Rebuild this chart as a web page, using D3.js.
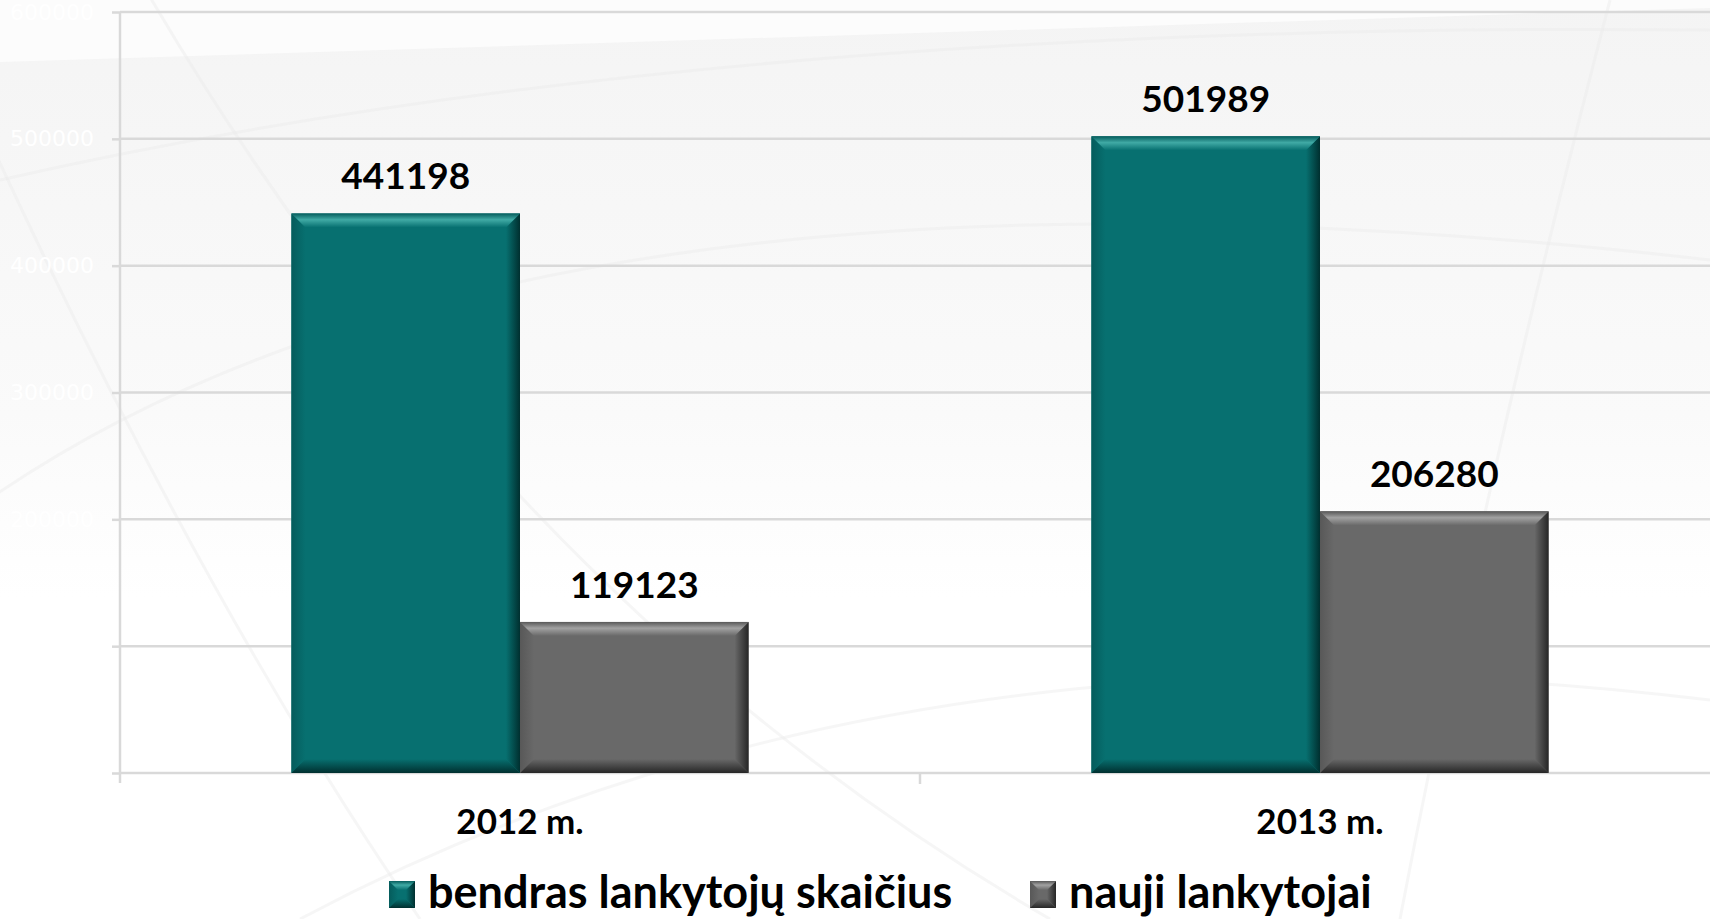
<!DOCTYPE html>
<html>
<head>
<meta charset="utf-8">
<script src="https://cdn.jsdelivr.net/npm/d3@7"></script>
<style>
  html, body { margin: 0; padding: 0; background: #fff; overflow: hidden; }
  text { font-family: Lato, "Open Sans", sans-serif; font-weight: bold; }
</style>
</head>
<body>
<div id="chart"></div>
<script>
// data
const years = ['2012 m.', '2013 m.'];
const seriesNames = ['bendras lankytojų skaičius', 'nauji lankytojai'];
const totalVisitors = [441198, 501989];
const newVisitors = [119123, 206280];
const yTicks = [0, 100000, 200000, 300000, 400000, 500000, 600000];

const W = 1710, H = 919;
const margin = { top: 12, left: 120 };
const plotBottom = 773;

// colours for each series: main, highlight, dark
const palette = [
  { main: '#077070', light: '#40aaa5', dark: '#002f2f', side: '#055c5c' },
  { main: '#696969', light: '#a2a2a2', dark: '#262626', side: '#585858' }
];

const svg = d3.select('#chart')
  .append('svg')
  .attr('width', W)
  .attr('height', H);

const defs = svg.append('defs');

// background
const bg = defs.append('linearGradient').attr('id', 'bg')
  .attr('x1', 0).attr('y1', 0).attr('x2', 0).attr('y2', 1);
bg.append('stop').attr('offset', '0%').attr('stop-color', '#f4f4f4');
bg.append('stop').attr('offset', '45%').attr('stop-color', '#fafafa');
bg.append('stop').attr('offset', '65%').attr('stop-color', '#ffffff');
bg.append('stop').attr('offset', '100%').attr('stop-color', '#ffffff');
svg.append('rect').attr('width', W).attr('height', H).attr('fill', 'url(#bg)');
svg.append('path')
  .attr('d', `M0,0 L${W},0 L${W},8 L0,62 Z`)
  .attr('fill', '#fcfcfc');

// faint decorative arcs
const arcs = [
  'M-40,520 Q500,120 1710,260',
  'M0,180 Q700,20 1710,30',
  'M140,-20 Q500,600 1050,919',
  'M-20,120 Q200,600 420,919',
  'M1610,0 Q1480,500 1400,919',
  'M300,919 Q900,600 1710,700'
];
svg.append('g').selectAll('path')
  .data(arcs)
  .join('path')
  .attr('d', d => d)
  .attr('fill', 'none')
  .attr('stroke', '#eaeaea')
  .attr('stroke-width', 3)
  .attr('opacity', 0.45);

// scales
const x0 = d3.scaleBand()
  .domain(years)
  .range([margin.left, margin.left + 1600]);
const x1 = d3.scaleBand()
  .domain(seriesNames)
  .range([0, x0.bandwidth()])
  .paddingOuter(0.75);
const y = d3.scaleLinear()
  .domain([0, 600000])
  .range([plotBottom, margin.top]);

// grid
svg.append('g').selectAll('line')
  .data(yTicks)
  .join('line')
  .attr('x1', margin.left)
  .attr('x2', W)
  .attr('y1', d => y(d))
  .attr('y2', d => y(d))
  .attr('stroke', '#d9d9d9')
  .attr('stroke-width', 2.5);

// y axis
const yAxis = svg.append('g')
  .attr('transform', 'translate(' + margin.left + ',0)')
  .call(d3.axisLeft(y).tickValues(yTicks).tickSize(8).tickPadding(18).tickFormat(d3.format('d')));
yAxis.select('.domain').attr('stroke', '#d9d9d9').attr('stroke-width', 2.5)
  .attr('d', `M0,${margin.top}V${plotBottom + 10}`);
yAxis.selectAll('.tick line').attr('stroke', '#d9d9d9').attr('stroke-width', 2.5);
yAxis.selectAll('.tick text')
  .attr('fill', '#ffffff')
  .style('font-family', '"DejaVu Sans", sans-serif')
  .style('font-weight', 'normal')
  .style('font-size', '22px');

// x axis
const xAxis = svg.append('g')
  .attr('transform', 'translate(0,' + plotBottom + ')')
  .call(d3.axisBottom(x0).tickSize(0).tickPadding(36));
xAxis.select('.domain').remove();
xAxis.selectAll('.tick text')
  .attr('fill', '#000')
  .style('font-size', '35px')
  .style('font-family', 'Lato, sans-serif')
  .style('font-weight', 'bold');
// category separators
svg.append('g').selectAll('line')
  .data(x0.domain().slice(1))
  .join('line')
  .attr('x1', d => x0(d))
  .attr('x2', d => x0(d))
  .attr('y1', plotBottom)
  .attr('y2', plotBottom + 11)
  .attr('stroke', '#d9d9d9')
  .attr('stroke-width', 2.5);

// gradients for bevels
palette.forEach((p, i) => {
  const top = defs.append('linearGradient').attr('id', 'top' + i)
    .attr('x1', 0).attr('y1', 0).attr('x2', 0).attr('y2', 1);
  top.append('stop').attr('offset', '0%').attr('stop-color', p.side);
  top.append('stop').attr('offset', '45%').attr('stop-color', p.light);
  top.append('stop').attr('offset', '100%').attr('stop-color', p.main);
  const right = defs.append('linearGradient').attr('id', 'right' + i)
    .attr('x1', 0).attr('y1', 0).attr('x2', 1).attr('y2', 0);
  right.append('stop').attr('offset', '0%').attr('stop-color', p.main);
  right.append('stop').attr('offset', '100%').attr('stop-color', p.dark);
  const bottom = defs.append('linearGradient').attr('id', 'bottom' + i)
    .attr('x1', 0).attr('y1', 0).attr('x2', 0).attr('y2', 1);
  bottom.append('stop').attr('offset', '0%').attr('stop-color', p.main);
  bottom.append('stop').attr('offset', '100%').attr('stop-color', p.dark);
  const left = defs.append('linearGradient').attr('id', 'left' + i)
    .attr('x1', 0).attr('y1', 0).attr('x2', 1).attr('y2', 0);
  left.append('stop').attr('offset', '0%').attr('stop-color', p.side);
  left.append('stop').attr('offset', '100%').attr('stop-color', p.main);
});

function bevelRect(g, x, yy, w, h, b, i) {
  const p = palette[i];
  g.append('rect').attr('x', x).attr('y', yy).attr('width', w).attr('height', h).attr('fill', p.main);
  const pts = a => a.map(q => q.join(',')).join(' ');
  g.append('polygon').attr('fill', `url(#left${i})`)
    .attr('points', pts([[x, yy], [x + b, yy + b], [x + b, yy + h - b], [x, yy + h]]));
  g.append('polygon').attr('fill', `url(#right${i})`)
    .attr('points', pts([[x + w, yy], [x + w, yy + h], [x + w - b, yy + h - b], [x + w - b, yy + b]]));
  g.append('polygon').attr('fill', `url(#bottom${i})`)
    .attr('points', pts([[x, yy + h], [x + w, yy + h], [x + w - b, yy + h - b], [x + b, yy + h - b]]));
  g.append('polygon').attr('fill', `url(#top${i})`)
    .attr('points', pts([[x, yy], [x + w, yy], [x + w - b, yy + b], [x + b, yy + b]]));
}

// bars
const seriesValues = [totalVisitors, newVisitors];
const bars = svg.append('g');
seriesValues.forEach((vals, si) => {
  vals.forEach((v, ci) => {
    const bx = x0(years[ci]) + x1(seriesNames[si]);
    const by = y(v);
    bevelRect(bars.append('g'), bx, by, x1.bandwidth(), y(0) - by, 14, si);
    svg.append('text')
      .attr('x', bx + x1.bandwidth() / 2)
      .attr('y', by - 24)
      .attr('text-anchor', 'middle')
      .attr('fill', '#000')
      .style('font-size', '37px')
      .text(v);
  });
});

// legend
const legendX = [389, 1030];
const legend = svg.append('g');
seriesNames.forEach((name, i) => {
  bevelRect(legend.append('g'), legendX[i], 881, 26, 27, 9, i);
  legend.append('text')
    .attr('x', legendX[i] + 39)
    .attr('y', 908)
    .attr('fill', '#000')
    .style('font-size', '45px')
    .text(name);
});
</script>
</body>
</html>
